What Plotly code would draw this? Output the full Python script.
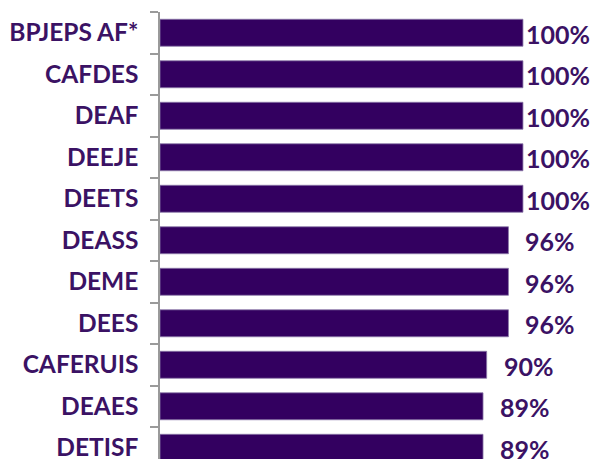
import plotly.graph_objects as go

categories = ["BPJEPS AF*", "CAFDES", "DEAF", "DEEJE", "DEETS", "DEASS", "DEME", "DEES", "CAFERUIS", "DEAES", "DETISF"]
values = [100, 100, 100, 100, 100, 96, 96, 96, 90, 89, 89]
value_labels = ["100%", "100%", "100%", "100%", "100%", "96%", "96%", "96%", "90%", "89%", "89%"]

bar_color = "#330060"
text_color = "#3b1264"

fig = go.Figure()
fig.add_trace(go.Bar(
    x=values, y=categories, orientation="h",
    marker=dict(color=bar_color, line=dict(color="#8c78a8", width=0.8)),
    width=0.65, hoverinfo="skip",
))

for c, v, t in zip(categories, values, value_labels):
    fig.add_annotation(x=v, y=c, text=t, showarrow=False, xanchor="right",
                       xshift=69, yanchor="middle", yshift=-1,
                       font=dict(family="Lato", size=25, color=text_color, weight="bold"))

fig.update_layout(
    width=597, height=459,
    margin=dict(l=160, r=0, t=12, b=0, autoexpand=False),
    paper_bgcolor="white", plot_bgcolor="white",
    showlegend=False,
    xaxis=dict(range=[0, 120.4], visible=False, fixedrange=True, automargin=False),
    yaxis=dict(
        type="category", categoryorder="array", categoryarray=categories,
        range=[10.27, -0.5], showline=True, linecolor="#9a9a9a", linewidth=1.5,
        ticks="outside", ticklen=8, tickcolor="#9a9a9a", tickwidth=1.5, tickson="boundaries",
        showgrid=False, ticklabelstandoff=15, automargin=False, fixedrange=True,
        tickfont=dict(family="Lato", size=24.5, color=text_color, weight="bold"),
    ),
)

fig.write_html("out.html", config={"displayModeBar": False},
               post_script="document.body.style.margin='0';")
